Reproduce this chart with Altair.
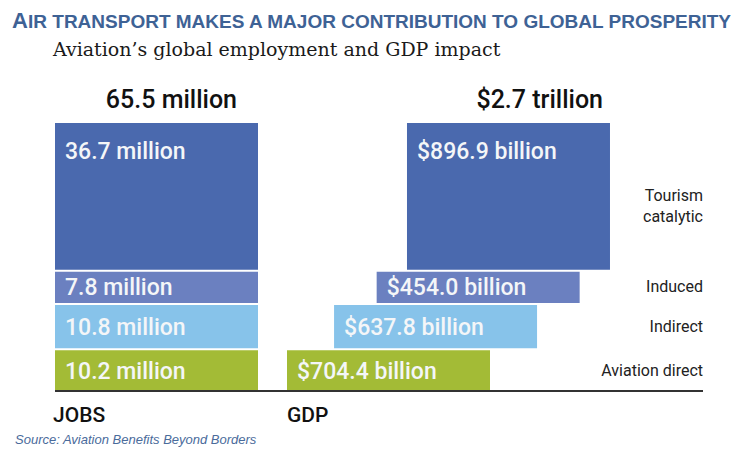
import altair as alt
import pandas as pd

# ---- data ----
categories = ["Aviation direct", "Indirect", "Induced", "Tourism\ncatalytic"]
jobs_millions = [10.2, 10.8, 7.8, 36.7]
gdp_billions = [704.4, 637.8, 454.0, 896.9]
jobs_labels = ["10.2 million", "10.8 million", "7.8 million", "36.7 million"]
gdp_labels = ["$704.4 billion", "$637.8 billion", "$454.0 billion", "$896.9 billion"]
colors = ["#a3bb36", "#87c3ea", "#6b80c0", "#4a69ae"]
jobs_total = "65.5 million"
gdp_total = "$2.7 trillion"
panel_names = ["JOBS", "GDP"]

# ---- layout constants (style) ----
W, H = 740, 439
GAP = 0.5            # white gap between stacked segments (in millions-of-jobs units)
BAR_W = 203          # width of a block in x-units
JOBS_X = 47          # left edge of the jobs stack
GDP_X = 279          # left edge of the GDP stack
GDP_SHIFT = 0.0668   # x-units per $bn of preceding GDP (waterfall shift)
PX_PER_UNIT = 4.0
Y0_PIX = 383
y_domain = [-(H - Y0_PIX) / PX_PER_UNIT, Y0_PIX / PX_PER_UNIT]

rows = []
cum_j = 0.0
cum_g = 0.0
for i, (cat, jv, gv, jl, gl) in enumerate(zip(categories, jobs_millions, gdp_billions, jobs_labels, gdp_labels)):
    y0 = cum_j + i * GAP
    y1 = y0 + jv
    ly = y1 - min(jv / 2, 7.0)
    rows.append(dict(panel="JOBS", cat=cat, x0=JOBS_X, x1=JOBS_X + BAR_W, y0=y0, y1=y1, ly=ly, label=jl))
    gx = GDP_X + cum_g * GDP_SHIFT
    rows.append(dict(panel="GDP", cat=cat, x0=gx, x1=gx + BAR_W, y0=y0, y1=y1, ly=ly, label=gl))
    cum_j += jv
    cum_g += gv
df = pd.DataFrame(rows)
top = df["y1"].max()

xs = alt.Scale(domain=[0, W])
ys = alt.Scale(domain=y_domain)
color_scale = alt.Scale(domain=categories, range=colors)

bars = alt.Chart(df).mark_rect().encode(
    x=alt.X("x0:Q", scale=xs, axis=None),
    x2="x1:Q",
    y=alt.Y("y0:Q", scale=ys, axis=None),
    y2="y1:Q",
    color=alt.Color("cat:N", scale=color_scale, legend=None),
)

bar_text = alt.Chart(df).mark_text(
    align="left", baseline="middle", dx=10, dy=1, font="Roboto", fontWeight=500,
    fontSize=23, color="#f4f6f8"
).encode(
    x=alt.X("x0:Q", scale=xs, axis=None),
    y=alt.Y("ly:Q", scale=ys, axis=None),
    text="label:N",
)

cat_df = df[df["panel"] == "JOBS"].assign(ym=lambda d: (d["y0"] + d["y1"]) / 2)
cat_text = alt.Chart(cat_df).mark_text(
    align="right", baseline="middle", font="Roboto", fontSize=16, color="#222222",
    lineBreak="\n", lineHeight=21
).encode(
    x=alt.value(695),
    y=alt.Y("ym:Q", scale=ys, axis=None),
    text="cat:N",
)

base_df = pd.DataFrame({"x0": [JOBS_X], "x1": [695], "y": [0.0]})
baseline = alt.Chart(base_df).mark_rule(color="#333333", strokeWidth=2).encode(
    x=alt.X("x0:Q", scale=xs, axis=None), x2="x1:Q",
    y=alt.Y("y:Q", scale=ys, axis=None),
)

tourism_rows = df[df["y1"] == top]
tot_df = pd.DataFrame({
    "x": [tourism_rows[tourism_rows.panel == "JOBS"].x1.iloc[0] - 21,
          tourism_rows[tourism_rows.panel == "GDP"].x1.iloc[0] - 7],
    "y": [top, top],
    "t": [jobs_total, gdp_total],
})
totals = alt.Chart(tot_df).mark_text(
    align="right", baseline="alphabetic", dy=-15, font="Roboto", fontWeight=500,
    fontSize=25, color="#111111"
).encode(
    x=alt.X("x:Q", scale=xs, axis=None),
    y=alt.Y("y:Q", scale=ys, axis=None),
    text="t:N",
)

pan_df = pd.DataFrame({"x": [JOBS_X - 2, GDP_X], "y": [0.0, 0.0], "t": panel_names})
panels = alt.Chart(pan_df).mark_text(
    align="left", baseline="alphabetic", dy=31, font="Roboto", fontWeight=500,
    fontSize=21, color="#111111"
).encode(
    x=alt.X("x:Q", scale=xs, axis=None),
    y=alt.Y("y:Q", scale=ys, axis=None),
    text="t:N",
)

TITLE_COLOR = "#3e6295"
title_a = alt.Chart(pd.DataFrame({"t": ["A"]})).mark_text(
    align="left", baseline="alphabetic", font="Liberation Sans", fontWeight="bold",
    fontSize=22, color=TITLE_COLOR
).encode(x=alt.value(4), y=alt.value(20), text="t:N")
title_rest = alt.Chart(pd.DataFrame({"t": ["IR TRANSPORT MAKES A MAJOR CONTRIBUTION TO GLOBAL PROSPERITY"]})).mark_text(
    align="left", baseline="alphabetic", font="Liberation Sans", fontWeight="bold",
    fontSize=19, color=TITLE_COLOR
).encode(x=alt.value(20), y=alt.value(20), text="t:N")
subtitle = alt.Chart(pd.DataFrame({"t": ["Aviation\u2019s global employment and GDP impact"]})).mark_text(
    align="left", baseline="alphabetic", font="DejaVu Serif", fontSize=19, color="#1a1a1a"
).encode(x=alt.value(45), y=alt.value(48), text="t:N")
source = alt.Chart(pd.DataFrame({"t": ["Source: Aviation Benefits Beyond Borders"]})).mark_text(
    align="left", baseline="alphabetic", font="Liberation Sans", fontStyle="italic",
    fontSize=13, color="#4a6b9b"
).encode(x=alt.value(7), y=alt.value(436), text="t:N")

chart = alt.layer(
    bars, bar_text, cat_text, baseline, totals, panels,
    title_a, title_rest, subtitle, source
).properties(
    width=W, height=H, padding=0, autosize=alt.AutoSizeParams(type="none")
).configure_view(stroke=None)

chart.save("out.html", embed_options={"renderer": "svg", "actions": False})
